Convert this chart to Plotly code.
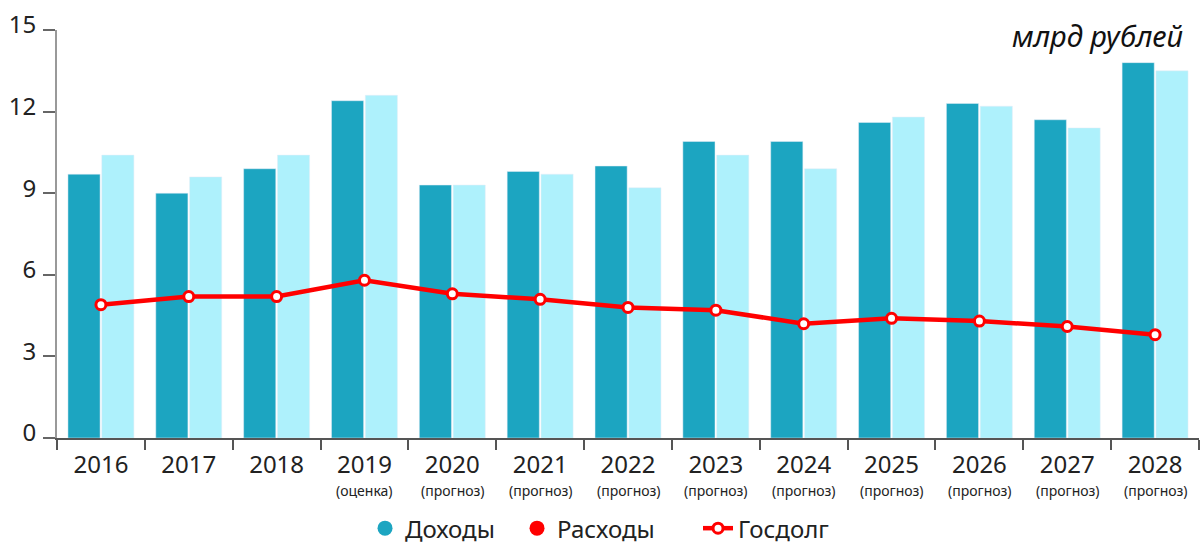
import plotly.graph_objects as go

years = ["2016", "2017", "2018", "2019", "2020", "2021", "2022",
         "2023", "2024", "2025", "2026", "2027", "2028"]
notes = ["", "", "", "(оценка)", "(прогноз)", "(прогноз)", "(прогноз)",
         "(прогноз)", "(прогноз)", "(прогноз)", "(прогноз)", "(прогноз)", "(прогноз)"]
dokhody = [9.7, 9.0, 9.9, 12.4, 9.3, 9.8, 10.0, 10.9, 10.9, 11.6, 12.3, 11.7, 13.8]
raskhody = [10.4, 9.6, 10.4, 12.6, 9.3, 9.7, 9.2, 10.4, 9.9, 11.8, 12.2, 11.4, 13.5]
gosdolg = [4.9, 5.2, 5.2, 5.8, 5.3, 5.1, 4.8, 4.7, 4.2, 4.4, 4.3, 4.1, 3.8]
y_ticks = [0, 3, 6, 9, 12, 15]

C_DARK = "#1ca5c1"
C_LIGHT = "#aef1fc"
C_RED = "#ff0000"
FONT = "Noto Sans"

fig = go.Figure()
fig.add_trace(go.Bar(x=years, y=dokhody, name="Доходы", marker_color=C_DARK,
                     showlegend=False))
fig.add_trace(go.Bar(x=years, y=raskhody, name="Расходы", marker_color=C_LIGHT,
                     showlegend=False))
fig.add_trace(go.Scatter(x=years, y=gosdolg, name="Госдолг", mode="lines+markers",
                         line=dict(color=C_RED, width=4.5),
                         marker=dict(size=10, color="white",
                                     line=dict(color=C_RED, width=3)),
                         showlegend=False))
# legend entries
fig.add_trace(go.Scatter(x=[None], y=[None], name="Доходы", mode="markers",
                         legendwidth=107,
                         marker=dict(size=15, color=C_DARK)))
fig.add_trace(go.Scatter(x=[None], y=[None], name="Расходы", mode="markers",
                         legendwidth=136,
                         marker=dict(size=15, color=C_RED)))
fig.add_trace(go.Scatter(x=[None], y=[None], name="Госдолг", mode="lines+markers",
                         line=dict(color=C_RED, width=4.5),
                         marker=dict(size=10, color="white",
                                     line=dict(color=C_RED, width=3))))

for i, nt in enumerate(notes):
    if nt:
        fig.add_annotation(x=i, y=0, xref="x", yref="paper", text=nt,
                           showarrow=False, yanchor="top", yshift=-41,
                           font=dict(family=FONT, size=14, color="#222"))

fig.add_annotation(x=1, y=1, xref="paper", yref="paper", text="<i>млрд рублей</i>",
                   showarrow=False, xanchor="right", yanchor="middle",
                   xshift=-14, yshift=-5,
                   font=dict(family=FONT, size=29, color="#111"))

fig.update_layout(
    width=1200, height=545,
    margin=dict(l=57, r=1, t=30, b=107, autoexpand=False),
    plot_bgcolor="white", paper_bgcolor="white",
    barmode="group", bargap=0.23, bargroupgap=0.05,
    font=dict(family=FONT, size=23, color="#222"),
    legend=dict(orientation="h", x=0.4755, xanchor="center", y=-0.222, yanchor="middle",
                font=dict(family=FONT, size=24, color="#222"),
                itemsizing="trace", traceorder="normal"),
    showlegend=True,
)
fig.update_xaxes(type="category", tickson="boundaries", ticks="outside", ticklen=10,
                 tickcolor="#555", tickwidth=1.5, showline=True, linecolor="#555",
                 linewidth=1.5, showgrid=False, tickfont=dict(size=24, color="#222"),
                 ticklabelstandoff=4, range=[-0.5, 12.5])
fig.update_yaxes(range=[0, 15], tickvals=y_ticks, ticks="outside", ticklen=12,
                 tickcolor="#666", tickwidth=1.5, showline=True, linecolor="#999",
                 linewidth=2, showgrid=False, zeroline=False,
                 ticklabelstandoff=2, ticklabelshift=-5,
                 tickfont=dict(size=24, color="#222"))

fig.write_html("out.html", config={"displayModeBar": False},
               post_script="document.body.style.margin='0';")
